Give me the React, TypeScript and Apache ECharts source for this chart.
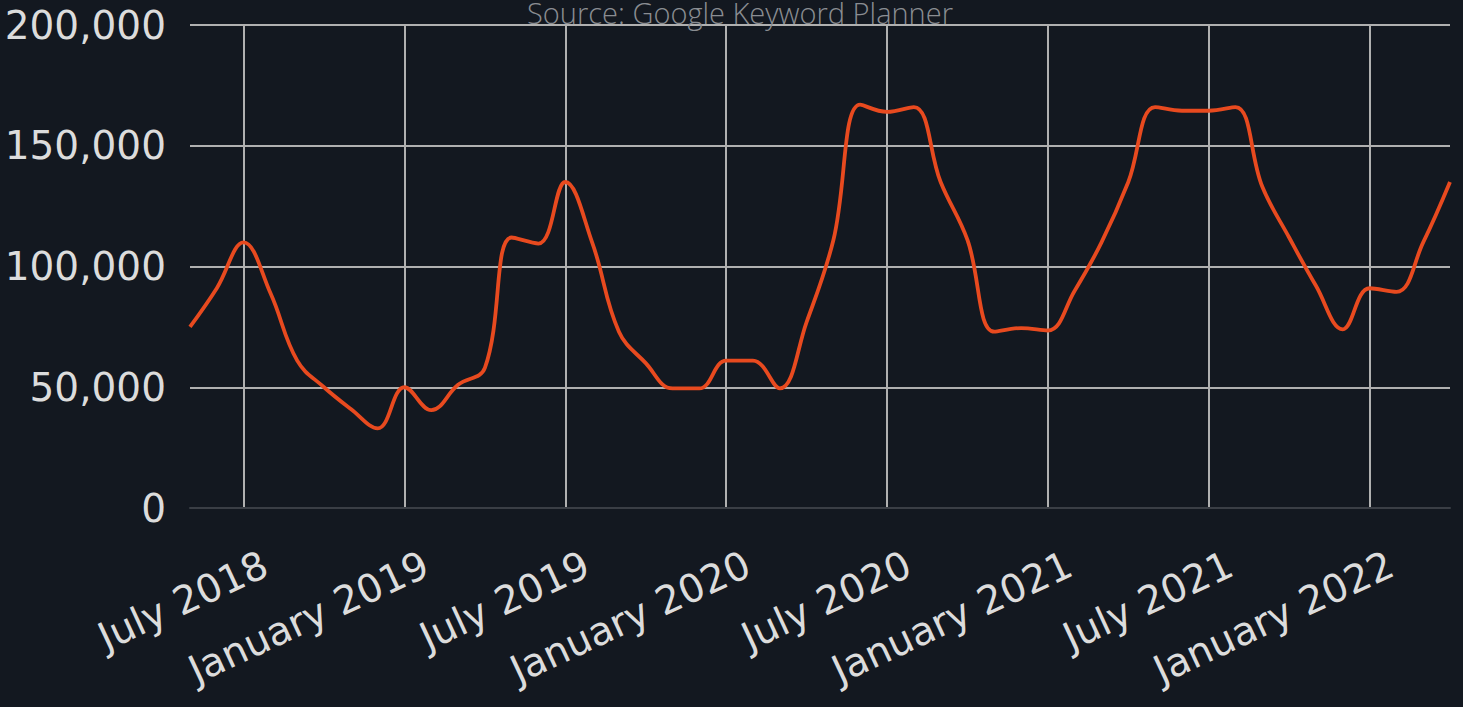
import React, { useEffect, useRef } from "react";
import * as echarts from "echarts";

const months = [
  "May 2018", "June 2018", "July 2018", "August 2018", "September 2018", "October 2018", "November 2018", "December 2018",
  "January 2019", "February 2019", "March 2019", "April 2019", "May 2019", "June 2019", "July 2019", "August 2019",
  "September 2019", "October 2019", "November 2019", "December 2019",
  "January 2020", "February 2020", "March 2020", "April 2020", "May 2020", "June 2020", "July 2020", "August 2020",
  "September 2020", "October 2020", "November 2020", "December 2020",
  "January 2021", "February 2021", "March 2021", "April 2021", "May 2021", "June 2021", "July 2021", "August 2021",
  "September 2021", "October 2021", "November 2021", "December 2021",
  "January 2022", "February 2022", "March 2022", "April 2022",
];

const searches = [
  75000, 91000, 110000, 89000, 61000, 50000, 41000, 33000,
  50000, 40500, 51000, 58000, 112000, 109500, 135000, 110000, 73000, 60000, 49500, 49500,
  61000, 61000, 49500, 77000, 111000, 167000, 164000, 166000, 135000, 111000, 73000, 74500,
  73500, 90000, 110000, 135000, 166000, 164500, 164500, 166000, 133000, 112000, 92000, 74000,
  91000, 89500, 110000, 135000,
];

const yTicks = [0, 50000, 100000, 150000, 200000];
const sourceText = "Source: Google Keyword Planner";

const isMarked = (i: number) => i % 6 === 2;

export default function App() {
  const ref = useRef<HTMLDivElement>(null);
  useEffect(() => {
    if (!ref.current) return;
    const chart = echarts.init(ref.current, undefined, { renderer: "svg" });
    chart.setOption({
      animation: false,
      backgroundColor: "#131820",
      grid: {
        left: 190,
        right: 13,
        top: 25,
        bottom: 199,
        containLabel: false,
        outerBoundsMode: "none",
      },
      graphic: [
        {
          type: "text",
          x: 740,
          y: 27,
          z: 10,
          style: {
            text: sourceText,
            align: "center",
            verticalAlign: "bottom",
            fill: "#8a8d92",
            fontFamily: "Open Sans",
            fontWeight: 300,
            fontSize: 29,
          },
        },
      ],
      xAxis: {
        type: "category",
        data: months,
        boundaryGap: false,
        axisLine: { show: true, lineStyle: { color: "#3a3e45", width: 2 } },
        axisTick: { show: false },
        axisLabel: {
          interval: 0,
          formatter: (v: string, i: number) => (isMarked(i) ? v : ""),
          hideOverlap: false,
          rotate: 25,
          margin: 8,
          verticalAlign: "top",
          lineHeight: 102,
          color: "#dcdcdc",
          fontFamily: "DejaVu Sans",
          fontSize: 39,
        },
        splitLine: {
          show: true,
          interval: (i: number) => isMarked(i),
          lineStyle: { color: "#b0b0b0", width: 2 },
        },
      },
      yAxis: {
        type: "value",
        min: yTicks[0],
        max: yTicks[yTicks.length - 1],
        interval: yTicks[1] - yTicks[0],
        axisLine: { show: false },
        axisTick: { show: false },
        axisLabel: {
          margin: 24,
          color: "#dcdcdc",
          fontFamily: "DejaVu Sans",
          fontSize: 39,
          formatter: (v: number) => v.toLocaleString("en-US"),
        },
        splitLine: {
          show: true,
          showMinLine: false,
          lineStyle: { color: "#b0b0b0", width: 2 },
        },
      },
      series: [
        {
          type: "line",
          data: searches,
          smooth: 0.4,
          symbol: "none",
          lineStyle: { color: "#e84a1f", width: 3.8 },
        },
      ],
    });
    return () => chart.dispose();
  }, []);
  return (
    <div
      ref={ref}
      style={{ position: "fixed", left: 0, top: 0, width: 1463, height: 707 }}
    />
  );
}
